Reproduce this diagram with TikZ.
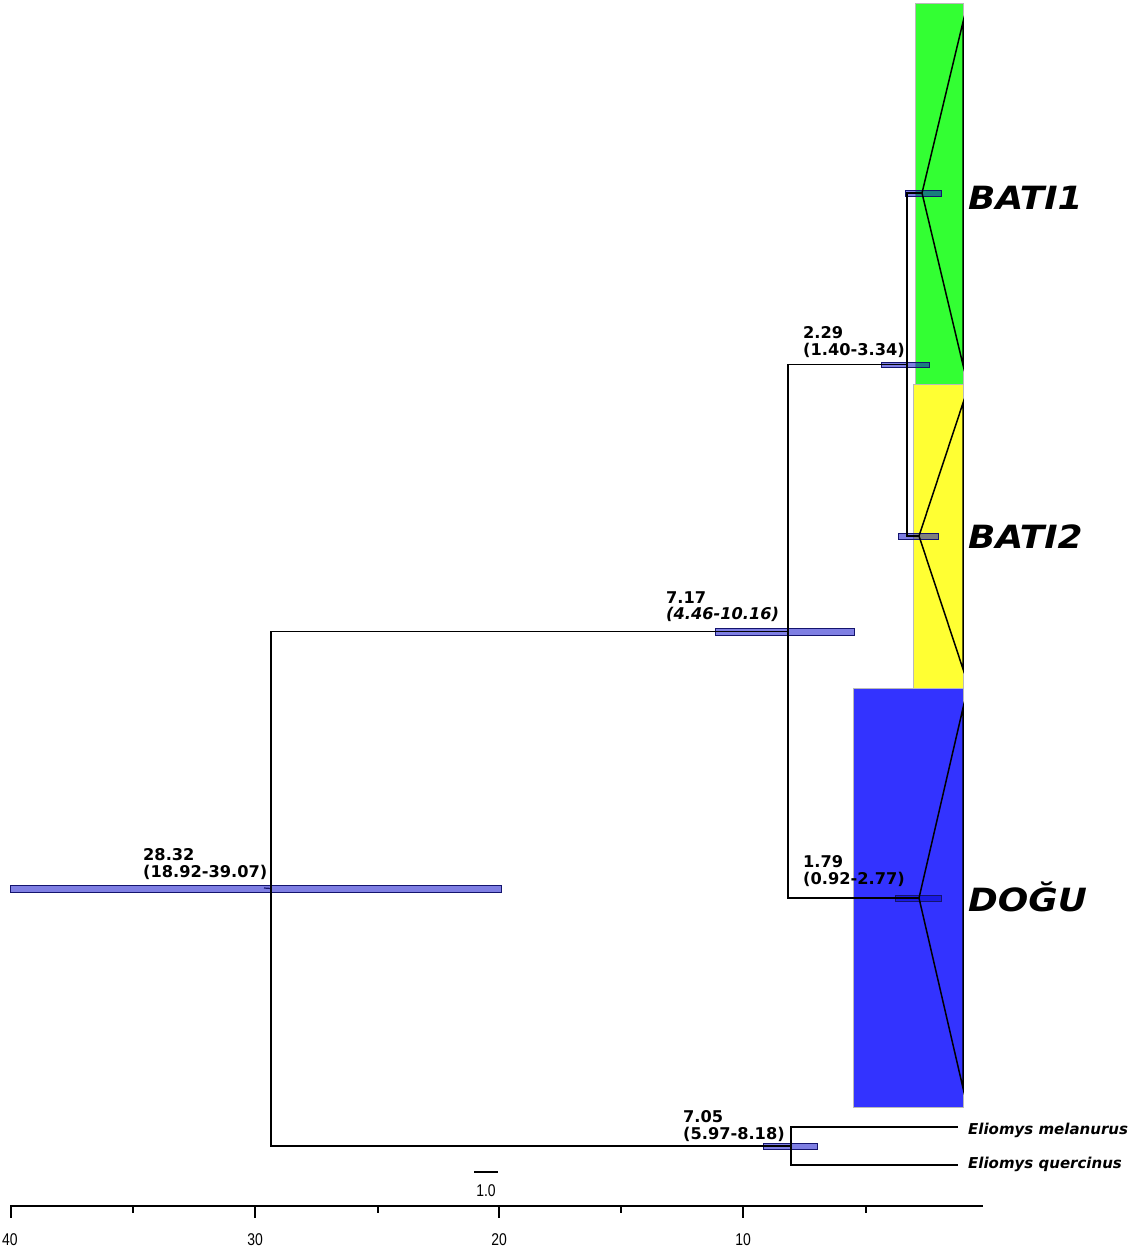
\documentclass[tikz,border=0pt]{standalone}
\usepackage{fontspec}
\setmainfont{DejaVu Sans}
\newfontfamily\labfont{DejaVu Sans}
\newfontfamily\cladefont[FakeStretch=1.12]{DejaVu Sans}
\newfontfamily\axfont[FakeStretch=0.82]{Liberation Sans}
\definecolor{cgreen}{RGB}{51,255,51}
\definecolor{cyellow}{RGB}{255,255,51}
\definecolor{cblue}{RGB}{51,51,255}
\definecolor{hpdfill}{RGB}{0,0,200}
\definecolor{hpdedge}{RGB}{20,20,110}
\begin{document}
\begin{tikzpicture}[x=1pt,y=-1pt,
  cladebox/.style={draw=gray!55,line width=0.6pt},
  branch/.style={draw=black,line width=1.5pt},
  tri/.style={draw=black,line width=1.5pt,line join=miter},
  hpd/.style={fill=hpdfill,fill opacity=0.5,draw=hpdedge,line width=0.8pt},
  lab/.style={font=\labfont\bfseries\fontsize{16.2}{17}\selectfont,inner sep=0pt,align=left,anchor=base west},
  labit/.style={font=\labfont\bfseries\itshape\fontsize{16.2}{17}\selectfont,inner sep=0pt,anchor=base west},
  clade/.style={font=\cladefont\bfseries\itshape\fontsize{32}{34}\selectfont,inner sep=0pt,anchor=west},
  taxon/.style={font=\labfont\bfseries\itshape\fontsize{15}{17}\selectfont,inner sep=0pt,anchor=west},
  axlab/.style={font=\axfont\fontsize{17}{19}\selectfont,inner sep=0pt},
  axline/.style={draw=black,line width=1.3pt}]
\useasboundingbox (0,0) rectangle (1138,1252);
\clip (0,0) rectangle (1138,1252);
% clade boxes
\draw[cladebox,fill=cgreen] (915,3) rectangle (963,384);
\draw[cladebox,fill=cyellow] (913,384) rectangle (963,688);
\draw[cladebox,fill=cblue] (853,688) rectangle (963,1107);
% tree nodes
\coordinate (root) at (271,888.5);
\coordinate (n717) at (788,631.5);
\coordinate (n705) at (791,1146);
\coordinate (n229) at (907,364.5);
\coordinate (nDogu) at (919,898);
\coordinate (nB1) at (922,193);
\coordinate (nB2) at (919,536);
\coordinate (tMel) at (958,1127);
\coordinate (tQue) at (958,1165);
% HPD bars
\draw[hpd] (10,885) rectangle (501,892);
\draw[hpd] (715,628) rectangle (854,635);
\draw[hpd] (763,1143) rectangle (817,1149);
\draw[hpd] (881,362) rectangle (929,367.5);
\draw[hpd] (895,895) rectangle (941,901);
\draw[hpd] (905,190) rectangle (941,196);
\draw[hpd] (898,533) rectangle (938,539);
\draw[draw=hpdedge,line width=1.2pt] (264,888) -- (root);
% branches
\draw[branch] (root) |- (n717);
\draw[branch] (root) |- (n705);
\draw[branch] (n717) |- (n229);
\draw[branch] (n717) |- (nDogu);
\draw[branch] (n229) |- (nB1);
\draw[branch] (n229) |- (nB2);
\draw[branch] (n705) |- (tMel);
\draw[branch] (n705) |- (tQue);
% collapsed clades
\draw[tri] (nB1) -- (963,22) -- (963,365) -- cycle;
\draw[tri] (nB2) -- (963,403) -- (963,669) -- cycle;
\draw[tri] (nDogu) -- (963,708) -- (963,1088) -- cycle;
% node labels
\node[lab] (l2832) at (143,877) {28.32\\(18.92-39.07)};
\node[lab] (l717a) at (666,603) {7.17};
\node[labit] (l717b) at (666,619.5) {(4.46-10.16)};
\node[lab] (l229) at (803,355) {2.29\\(1.40-3.34)};
\node[lab] (l179) at (803,884) {1.79\\(0.92-2.77)};
\node[lab] (l705) at (683,1139) {7.05\\(5.97-8.18)};
% clade labels
\node[clade] (cB1) at (968,198) {BATI1};
\node[clade] (cB2) at (968,537) {BATI2};
\node[clade] (cDogu) at (968,897) {DOĞU};
\node[taxon] (xMel) at (968,1130) {Eliomys melanurus};
\node[taxon] (xQue) at (968,1164) {Eliomys quercinus};
% scale bar
\coordinate (sbL) at (474,1172);
\coordinate (sbR) at (498,1172);
\draw[line width=2pt] (sbL) -- (sbR);
\node[axlab] (sblab) at (486,1191) {1.0};
% axis
\coordinate (axL) at (10,1206);
\coordinate (axR) at (983,1206);
\draw[axline] (axL) -- (axR);
\foreach \x/\l/\p in {11/40/10,255/30/255,499/20/499,743/10/743} {
  \draw[axline] (\x,1206) -- (\x,1218);
  \node[axlab] (ax\l) at (\p,1240) {\l};
}
\foreach \x in {133,378,621,866} {
  \draw[axline] (\x,1206) -- (\x,1213);
}
\end{tikzpicture}
\end{document}
